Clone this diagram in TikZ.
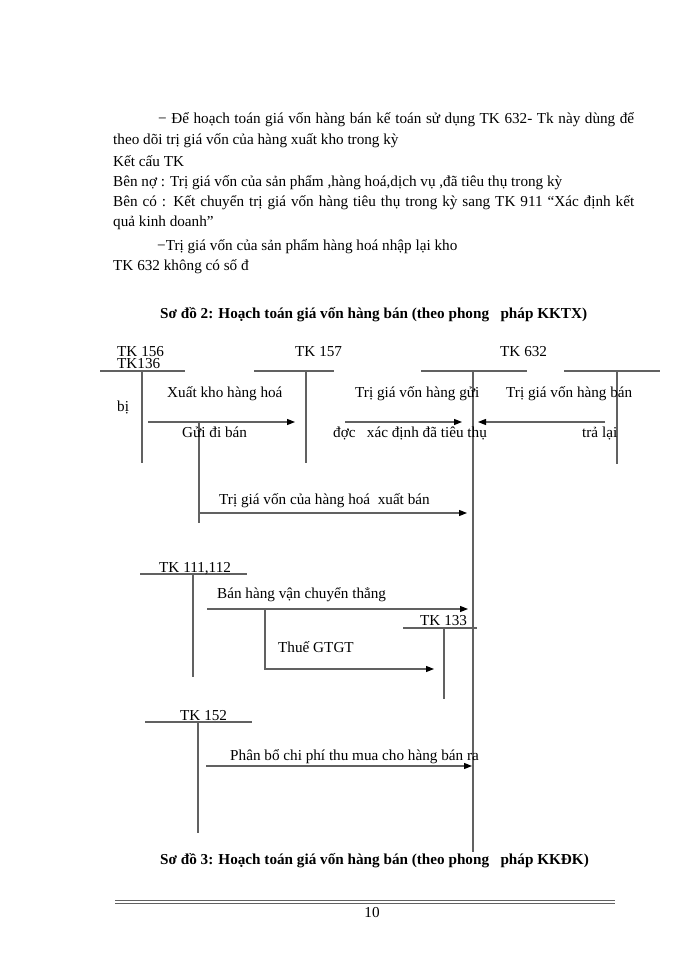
\documentclass[tikz,border=0pt]{standalone}
\usepackage{fontspec}
\setmainfont{Liberation Serif}
\usetikzlibrary{arrows.meta}
\begin{document}
\begin{tikzpicture}[x=1pt,y=-1pt,
  txt/.style={anchor=base west,inner sep=0pt,font=\fontsize{15.2}{18}\selectfont},
  ttl/.style={anchor=base west,inner sep=0pt,font=\fontsize{15.2}{18}\selectfont\bfseries},
  tline/.style={draw=black!62,line width=1.2pt},
  flow/.style={draw=black!62,line width=1.2pt,-{Triangle[length=8pt,width=6pt,fill=black,color=black]}}]
\useasboundingbox (0,0) rectangle (700,960);
\fill[white] (0,0) rectangle (700,960);

% ---- body text ----
\node[txt] (l1) at (158,124) {\makebox[476pt][s]{− Để hoạch toán giá vốn hàng bán kế toán sử dụng TK 632- Tk này dùng để}};
\node[txt] (l2) at (113,145) {theo dõi trị giá vốn của hàng xuất kho trong kỳ};
\node[txt] (l3) at (113,167) {Kết cấu TK};
\node[txt] (l4) at (113,186) {Bên nợ : Trị giá vốn của sản phẩm ,hàng hoá,dịch vụ ,đã tiêu thụ trong kỳ};
\node[txt] (l5) at (113,206) {\makebox[521pt][s]{Bên có : Kết chuyển trị giá vốn hàng tiêu thụ trong kỳ sang TK 911 “Xác định kết}};
\node[txt] (l6) at (113,226) {quả kinh doanh”};
\node[txt] (l7) at (157,250) {−Trị giá vốn của sản phẩm hàng hoá nhập lại kho};
\node[txt] (l8) at (113,270) {TK 632 không có số đ};

\node[ttl] (t2) at (160,318) {Sơ đồ 2: Hoạch toán giá vốn hàng bán (theo phong\ \ \ pháp KKTX)};

% ---- T-account coordinates ----
\coordinate (h156a) at (100,371); \coordinate (h156b) at (185,371);
\coordinate (v156a) at (142,371); \coordinate (v156b) at (142,463);
\coordinate (h157a) at (254,371); \coordinate (h157b) at (334,371);
\coordinate (v157a) at (306,371); \coordinate (v157b) at (306,463);
\coordinate (h632a) at (421,371); \coordinate (h632b) at (527,371);
\coordinate (v632a) at (473,371); \coordinate (v632b) at (473,852);
\coordinate (hRa) at (564,371); \coordinate (hRb) at (660,371);
\coordinate (vRa) at (617,371); \coordinate (vRb) at (617,464);
\coordinate (h111a) at (140,574); \coordinate (h111b) at (247,574);
\coordinate (v111a) at (193,574); \coordinate (v111b) at (193,677);
\coordinate (h133a) at (403,628); \coordinate (h133b) at (477,628);
\coordinate (v133a) at (444,628); \coordinate (v133b) at (444,699);
\coordinate (h152a) at (145,722); \coordinate (h152b) at (252,722);
\coordinate (v152a) at (198,722); \coordinate (v152b) at (198,833);

\draw[tline] (h156a) -- (h156b); \draw[tline] (v156a) -- (v156b);
\draw[tline] (h157a) -- (h157b); \draw[tline] (v157a) -- (v157b);
\draw[tline] (h632a) -- (h632b); \draw[tline] (v632a) -- (v632b);
\draw[tline] (hRa) -- (hRb); \draw[tline] (vRa) -- (vRb);
\draw[tline] (h111a) -- (h111b); \draw[tline] (v111a) -- (v111b);
\draw[tline] (h133a) -- (h133b); \draw[tline] (v133a) -- (v133b);
\draw[tline] (h152a) -- (h152b); \draw[tline] (v152a) -- (v152b);

% ---- account labels ----
\node[txt] (k156) at (117,356) {TK 156};
\node[txt] (k136) at (117,368) {TK136};
\node[txt] (k157) at (295,356) {TK 157};
\node[txt] (k632) at (500,356) {TK 632};
\node[txt] (k111) at (159,572) {TK 111,112};
\node[txt] (k133) at (420,625) {TK 133};
\node[txt] (k152) at (180,720) {TK 152};

% ---- flow coordinates ----
\coordinate (a1s) at (148,422); \coordinate (a1e) at (295,422);
\coordinate (a2s) at (345,422); \coordinate (a2e) at (462,422);
\coordinate (a3s) at (605,422); \coordinate (a3e) at (478,422);
\coordinate (b1) at (199,422); \coordinate (b2) at (199,523);
\coordinate (a4s) at (199,513); \coordinate (a4e) at (467,513);
\coordinate (a5s) at (207,609); \coordinate (a5e) at (468,609);
\coordinate (c1) at (265,609); \coordinate (a6e) at (434,669);
\coordinate (a7s) at (206,766); \coordinate (a7e) at (472,766);

\draw[flow] (a1s) -- (a1e);
\draw[flow] (a2s) -- (a2e);
\draw[flow] (a3s) -- (a3e);
\draw[tline] (b1) -- (b2);
\draw[flow] (a4s) -- (a4e);
\draw[flow] (a5s) -- (a5e);
\draw[flow] (c1) |- (a6e);
\draw[flow] (a7s) -- (a7e);

% ---- flow labels ----
\node[txt] (x1) at (167,397) {Xuất kho hàng hoá};
\node[txt] (x2) at (117,411) {bị};
\node[txt] (x3) at (182,437) {Gửi đi bán};
\node[txt] (x4) at (355,397) {Trị giá vốn hàng gửi};
\node[txt] (x5) at (333,437) {đợc\ \ \ xác định đã tiêu thụ};
\node[txt] (x6) at (506,397) {Trị giá vốn hàng bán};
\node[txt] (x7) at (582,437) {trả lại};
\node[txt] (x8) at (219,504) {Trị giá vốn của hàng hoá\ \ xuất bán};
\node[txt] (x9) at (217,598) {Bán hàng vận chuyển thẳng};
\node[txt] (x10) at (278,652) {Thuế GTGT};
\node[txt] (x11) at (230,760) {Phân bổ chi phí thu mua cho hàng bán ra};

\node[ttl] (t3) at (160,864) {Sơ đồ 3: Hoạch toán giá vốn hàng bán (theo phong\ \ \ pháp KKĐK)};

% ---- footer ----
\coordinate (f1a) at (115,900); \coordinate (f1b) at (615,900);
\coordinate (f2a) at (115,903); \coordinate (f2b) at (615,903);
\draw[draw=black!62,line width=1pt] (f1a) -- (f1b);
\draw[draw=black!62,line width=1pt] (f2a) -- (f2b);
\node[txt,anchor=base] (pg) at (372,917) {10};
\end{tikzpicture}
\end{document}
